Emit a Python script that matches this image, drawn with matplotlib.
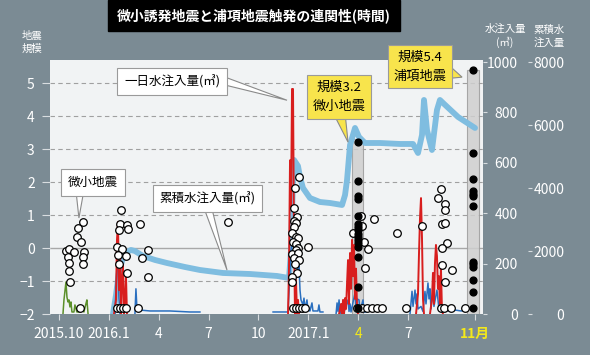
import matplotlib.pyplot as plt
from matplotlib.patches import Rectangle, Polygon

plt.rcParams['font.family'] = ['Noto Sans CJK JP', 'DejaVu Sans']

NAN = float('nan')

# time axis: months counted from 2015-10-01
month_ticks = [0, 3, 6, 9, 12, 15, 18, 21, 25]
month_labels = ['2015.10', '2016.1', '4', '7', '10', '2017.1', '4', '7', '11月']
mag_ticks = [-2, -1, 0, 1, 2, 3, 4, 5]
water_ticks = [0, 200, 400, 600, 800, 1000]
cum_ticks = [0, 2000, 4000, 6000, 8000]

# cumulative water injection (m3)
cum_t = [3.25, 3.43, 3.61, 3.85, 4.09, 4.33, 4.57, 5.05, 5.78, 6.50, 7.58, 8.48, 9.87,
         11.49, 13.12, 13.84, 13.96, 14.08, 14.14, 14.38, 14.50, 14.68, 15.10, 15.70,
         16.31, 17.03, 17.21, 17.33, 17.51, 17.81, 18.05, 18.41, 19.31, 20.52, 21.30,
         21.60, 21.84, 21.96, 22.14, 22.44, 22.74, 22.92, 23.17, 24.01, 25.03]
cum_v = [0, 603, 1334, 1778, 1969, 2032, 2000, 1842, 1715, 1619, 1492, 1397, 1302,
         1270, 1207, 1143, 2032, 4255, 4890, 4699, 4350, 4001, 3683, 3556,
         3524, 3461, 3778, 4255, 5366, 5906, 5620, 5429, 5429, 5398, 5398,
         5112, 5683, 6795, 5842, 5207, 6477, 6795, 6668, 6255, 5906]

# daily injection, well A (red)
red_t = [3.31, 3.43, 3.49, 3.55, 3.61, 3.67, 3.73, 3.79, 3.85, 3.91, 3.97, 4.03, 4.09, NAN,
         13.78, 13.84, 13.90, 13.96, 14.02, 14.08, 14.14, 14.20, 14.26, 14.32, 14.38, 14.44, NAN,
         16.85, 16.97, 17.03, 17.09, 17.15, 17.21, 17.27, 17.33, 17.39, 17.45, 17.51, 17.57,
         17.63, 17.69, 17.75, 17.81, 17.87, 17.93, 17.99, NAN,
         21.48, 21.60, 21.66, 21.72, 21.78, 21.84, 21.90, 21.96, NAN,
         22.32, 22.44, 22.50, 22.56, 22.62, 22.68, 22.74, 22.80, 22.86, 22.92, 22.98, 23.04, 23.10]
red_v = [0, 56, 294, 365, 95, 254, 0, 135, 194, 0, 56, 155, 0, NAN,
         0, 190, 610, 420, 893, 893, 300, 0, 135, 0, 56, 0, NAN,
         0, 40, 0, 56, 0, 63, 20, 120, 214, 40, 242, 100,
         294, 150, 274, 60, 180, 30, 0, NAN,
         0, 80, 242, 380, 460, 300, 60, 0, NAN,
         0, 60, 163, 40, 200, 274, 230, 100, 150, 30, 183, 20, 0]

# daily injection, well B (blue)
blue_t = [3.37, 3.49, 3.55, 3.61, 3.67, NAN,
          4.57, 4.63, 4.69, 4.81, 5.48, 6.68, 7.88, 8.48, NAN,
          12.88, 13.78, 13.96, 14.08, 14.20, 14.26, 14.32, 14.38, 14.44, 14.50, 14.56, 14.68,
          14.74, 14.80, 14.92, 14.98, 15.10, 15.22, 15.28, 15.58, 15.64, 15.70, 15.88, NAN,
          16.67, 16.73, 16.79, 16.85, 16.91, 16.97, 17.03, 17.15, 17.39, 17.45, 17.51, 17.57,
          17.81, 17.87, 17.93, 18.05, 18.11, 18.29, 18.35, 18.47, NAN,
          21.12, 21.24, 21.30, 21.42, 21.48, 21.54, 21.60, 21.78, 21.90, 22.02, 22.08, 22.20,
          22.26, 22.32, 22.38, 22.50, 22.56, 22.74, 22.86, 22.98, 23.20, 23.50, 23.80, 24.20, 24.55]
blue_v = [0, 200, 250, 60, 0, NAN,
          0, 100, 24, 16, 12, 12, 8, 8, NAN,
          8, 8, 254, 294, 306, 214, 254, 155, 194, 95, 56, 36,
          63, 20, 56, 16, 12, 44, 12, 12, 36, 8, 8, NAN,
          0, 44, 10, 56, 0, 30, 8, 8, 56, 10, 40, 8,
          84, 20, 60, 56, 10, 56, 8, 8, NAN,
          0, 90, 30, 95, 40, 80, 20, 30, 10, 90, 40, 123,
          60, 100, 20, 95, 30, 95, 20, 10, 16, 12, 16, 12, 16]

# daily injection 2015 (green)
green_t = [0.24, 0.30, 0.42, 0.48, 0.54, 0.60, 0.66, 0.72, 0.78, 0.90, 0.96, 1.08, 1.26,
           1.38, 1.50, 1.62, 1.68, 1.75]
green_v = [0, 56, 127, 67, 48, 56, 28, 48, 8, 8, 36, 8, 8, 32, 8, 40, 56, 0]

# micro earthquakes (open circles)
micro_t = [1.14, 1.44, 1.08, 1.32, 0.42, 0.60, 0.90, 1.50, 0.54, 1.44, 0.60, 1.44, 0.60, 0.66, 1.26,
           3.73, 3.67, 4.09, 3.61, 4.15, 4.87, 3.49, 3.79, 5.36, 3.55, 4.03, 5.02, 3.61, 4.09, 5.36,
           3.49, 3.67, 3.85, 4.03, 4.78,
           10.17,
           14.44, 14.20, 14.14, 14.32, 14.14, 14.26, 14.14, 14.02, 14.26, 14.38, 14.08, 14.26,
           14.38, 14.26, 14.02, 14.38, 14.14, 14.44, 14.20, 14.32, 14.02, 14.02, 14.98,
           14.08, 14.26, 14.44, 14.62, 14.80,
           18.17, 18.98, 18.23, 17.69, 18.35, 18.59, 18.41, 17.93, 18.23, 18.53, 18.83, 19.13, 19.43,
           20.34,
           22.98, 22.80, 23.22, 23.22, 23.04, 23.22, 21.87, 23.35, 23.04, 23.04, 23.65, 23.22,
           20.88, 23.00, 23.15, 23.56, 24.43]
micro_m = [0.61, 0.79, 0.33, 0.18, -0.09, -0.03, -0.12, -0.12, -0.27, -0.27, -0.45, -0.48, -0.70, -1.03, -1.82,
           1.15, 0.73, 0.70, 0.55, 0.58, 0.73, 0.03, -0.03, -0.06, -0.21, -0.24, -0.30, -0.48, -0.76, -0.88,
           -1.82, -1.82, -1.82, -1.82, -1.82,
           0.79,
           2.15, 1.82, 1.21, 0.94, 0.82, 0.76, 0.64, 0.45, 0.33, 0.30, 0.18, 0.12,
           0.0, -0.06, -0.18, -0.15, -0.30, -0.36, -0.48, -0.76, -0.88, -1.03, 0.03,
           -1.82, -1.82, -1.82, -1.82, -1.82,
           0.97, 0.88, 0.67, 0.45, 0.18, -0.03, -0.61, -1.82, -1.82, -1.82, -1.82, -1.82, -1.82,
           0.45,
           1.79, 1.53, 1.32, 1.15, 0.74, 0.76, 0.67, 0.15, 0.0, -0.52, -0.67, -1.03,
           -1.82, -1.82, -1.82, -1.82, -1.82]

# earthquakes in the two event windows (black dots)
apr_t = 17.96
apr_m = [3.2, 2.03, 1.58, 1.48, 0.97, 0.73, 0.64, 0.55, 0.42, 0.33, 0.24, 0.15, 0.03, -0.27, -1.18, -1.82]
nov_t = 24.91
nov_m = [5.4, 2.88, 2.09, 1.73, 1.64, 1.58, 1.27, -0.42, -0.48, -0.58, -0.97, -1.33, -1.82]

# event windows (gray bands)
band_start = [17.63, 24.55]
band_end = [18.29, 25.27]
band_top = [3.3, 5.4]

BG = '#7b8b94'
fig = plt.figure(figsize=(5.9, 3.55), dpi=100, facecolor=BG)
ax = fig.add_axes([50 / 590, 1 - 314 / 355, 433 / 590, 254 / 355])
ax.set_facecolor('#f1f3f4')
ax.set_xlim(-0.54, 25.51)
ax.set_ylim(-2, 5.7)
for s in ax.spines.values():
    s.set_visible(False)

# grid
for m in mag_ticks[1:]:
    if m == 0:
        ax.axhline(m, color='#a8a8a8', lw=1.0, zorder=1)
    else:
        ax.axhline(m, color='#a0a0a0', lw=0.8, ls=(0, (4, 3)), zorder=1)

# event bands
ax.bar(band_start, [t + 2 for t in band_top], bottom=-2,
       width=[e - s for s, e in zip(band_start, band_end)], align='edge',
       color='#cfcfcf', edgecolor='#9c9c9c', lw=0.8, alpha=0.85, zorder=2)

ax.set_yticks(mag_ticks)
ax.tick_params(axis='y', colors='#d8dde0', length=6, pad=5, labelsize=10, labelcolor='white')
ax.set_xticks(month_ticks)
ax.set_xticklabels(month_labels)
ax.tick_params(axis='x', colors='#d8dde0', length=4, pad=5, labelsize=10, labelcolor='white')
for i, lbl in enumerate(ax.get_xticklabels()):
    if i in (6, 8):
        lbl.set_color('#f3e81a')
    if i == 8:
        lbl.set_fontweight('bold')

# cumulative axis
ax_cum = ax.twinx()
ax_cum.set_ylim(0, 8064)
ax_cum.plot(cum_t, cum_v, color='#7fbde0', lw=4.2, solid_capstyle='round',
            solid_joinstyle='round')
ax_cum.spines['right'].set_position(('axes', 1.104))
for s in ax_cum.spines.values():
    s.set_visible(False)
ax_cum.set_yticks(cum_ticks)
ax_cum.tick_params(axis='y', colors='#d8dde0', length=3, pad=23, labelsize=10, labelcolor='white')
plt.setp(ax_cum.get_yticklabels(), ha='right')

# daily injection axis
ax_w = ax.twinx()
ax_w.set_ylim(0, 1008)
ax_w.plot(blue_t, blue_v, color='#2a6fbf', lw=1.1)
ax_w.plot(green_t, green_v, color='#5b8f2a', lw=1.1)
ax_w.plot(red_t, red_v, color='#d81e1e', lw=1.4)
for s in ax_w.spines.values():
    s.set_visible(False)
ax_w.set_yticks(water_ticks)
ax_w.tick_params(axis='y', colors='#d8dde0', length=3, pad=22, labelsize=10, labelcolor='white')
plt.setp(ax_w.get_yticklabels(), ha='right')

# earthquakes on top
ax_eq = ax.twinx()
ax_eq.set_ylim(ax.get_ylim())
ax_eq.axis('off')
ax_eq.scatter(micro_t, micro_m, s=30, facecolor='white', edgecolor='black', lw=0.9, zorder=3)
ax_eq.scatter([apr_t] * len(apr_m), apr_m, s=24, color='black', zorder=4)
ax_eq.scatter([nov_t] * len(nov_m), nov_m, s=24, color='black', zorder=4)


def callout(text, pos, tail, yellow=False):
    # speech-bubble: box with a triangular tail (base inside the box, tip at target)
    fc = '#f8e44c' if yellow else 'white'
    ax_eq.add_patch(Polygon(tail, closed=True, fc=fc, ec='#8a8a8a', lw=0.8,
                            zorder=5, clip_on=False))
    ax_eq.text(pos[0], pos[1], text, ha='center', va='center',
               fontsize=9.5 if yellow else 9, linespacing=1.55, zorder=6,
               bbox=dict(boxstyle='square,pad=0.45' if yellow else 'square,pad=0.55',
                         fc=fc, ec='#9a9a9a', lw=0.8))


callout('一日水注入量(㎥)', (6.8, 5.05), [(10.0, 5.18), (10.0, 4.94), (13.72, 4.48)])
callout('微小地震', (2.05, 1.98), [(1.02, 1.75), (1.50, 1.75), (1.20, 0.91)])
callout('累積水注入量(㎥)', (8.93, 1.5), [(8.66, 1.3), (9.15, 1.3), (10.11, -0.67)])
callout('規模3.2\n微小地震', (16.85, 4.58), [(16.49, 4.1), (17.21, 4.1), (17.39, 3.21)], yellow=True)
callout('規模5.4\n浦項地震', (21.72, 5.5), [(23.0, 5.75), (23.0, 5.12), (24.25, 5.18)], yellow=True)

# title and axis captions
fig.add_artist(Rectangle((108 / 590, 1 - 31 / 355), 292 / 590, 31 / 355,
                         transform=fig.transFigure, color='black'))
fig.text(254 / 590, 1 - 16 / 355, '微小誘発地震と浦項地震触発の連関性(時間)', ha='center', va='center',
         color='white', fontsize=10, fontweight='bold')
fig.text(32 / 590, 1 - 42 / 355, '地震\n規模', ha='center', va='center', color='white',
         fontsize=7.5, linespacing=1.3)
fig.text(505 / 590, 1 - 36 / 355, '水注入量\n(㎥)', ha='center', va='center', color='white',
         fontsize=7.5, linespacing=1.3)
fig.text(549 / 590, 1 - 36 / 355, '累積水\n注入量', ha='center', va='center', color='white',
         fontsize=7.5, linespacing=1.3)

fig.savefig('out.png', dpi=100, facecolor=BG)
